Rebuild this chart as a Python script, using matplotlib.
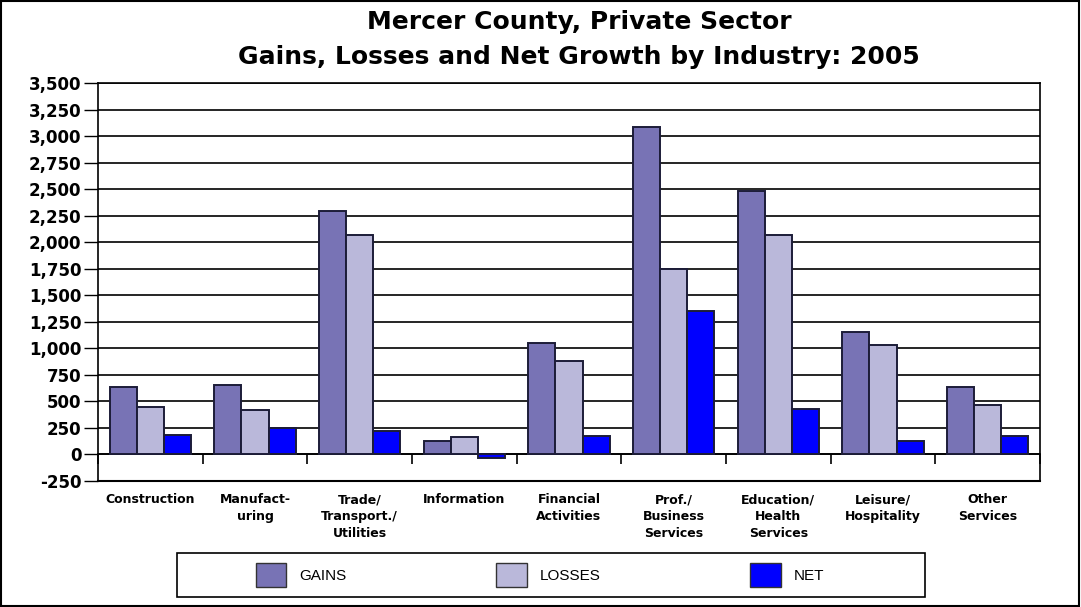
import numpy as np
import matplotlib.pyplot as plt
from matplotlib.patches import Rectangle, Patch

industries = ["Construction", "Manufact-\nuring", "Trade/\nTransport./\nUtilities",
              "Information", "Financial\nActivities", "Prof./\nBusiness\nServices",
              "Education/\nHealth\nServices", "Leisure/\nHospitality", "Other\nServices"]
gains = [635, 655, 2290, 125, 1050, 3090, 2485, 1158, 637]
losses = [447, 416, 2072, 160, 879, 1744, 2070, 1030, 463]
net = [183, 247, 222, -35, 177, 1356, 431, 130, 177]

series_names = ["GAINS", "LOSSES", "NET"]
colors = ["#7873B5", "#BAB8DA", "#0000FF"]

W, H = 1081, 607
fig = plt.figure(figsize=(W / 100, H / 100), dpi=100)
fig.patches.append(Rectangle((0.001, 0.002), 0.997, 0.996, transform=fig.transFigure,
                             fill=False, ec="black", lw=1.5))

ax = fig.add_axes([98 / W, 1 - 481 / H, (1040 - 98) / W, (481 - 83) / H])

x = np.arange(len(industries))
w = 0.26
for i, (vals, c) in enumerate(zip([gains, losses, net], colors)):
    ax.bar(x + (i - 1) * w, vals, w, color=c, edgecolor="#1c1c38", linewidth=1.4,
           label=series_names[i], zorder=3)

ax.set_xlim(-0.5, len(industries) - 0.5)
ax.set_ylim(-250, 3500)
ticks = np.arange(-250, 3501, 250)
ax.set_yticks(ticks)
ax.set_yticklabels([f"{v:,}" for v in ticks], fontsize=12, fontweight="bold")
ax.grid(axis="y", color="black", linewidth=1.2, zorder=0)
ax.axhline(-250, color="black", linewidth=1.5, clip_on=False, zorder=1)
ax.set_axisbelow(True)
ax.tick_params(axis="y", direction="out", length=10, width=1, pad=2)

ax.spines["bottom"].set_position(("data", 0))
ax.spines["bottom"].set_linewidth(1.2)
for s in ["left", "right", "top"]:
    ax.spines[s].set_linewidth(1.2)
ax.set_xticks(x)
ax.set_xticklabels(industries, fontsize=9, fontweight="bold", linespacing=1.4,
                   va="top")
ax.set_xticks(np.arange(-0.5, len(industries), 1), minor=True)
ax.tick_params(axis="x", which="major", length=0, pad=28)
ax.tick_params(axis="x", which="minor", direction="out", length=7, width=1.2)

fig.text(579 / W, 1 - 22 / H, "Mercer County, Private Sector", ha="center", va="center",
         fontsize=18, fontweight="bold")
fig.text(579 / W, 1 - 57 / H, "Gains, Losses and Net Growth by Industry: 2005",
         ha="center", va="center", fontsize=18, fontweight="bold")

# legend box
fig.patches.append(Rectangle((177 / W, 1 - 597 / H), (925 - 177) / W, 44 / H,
                             transform=fig.transFigure, fill=False, ec="black", lw=1.2))
handles = [Patch(facecolor=c, edgecolor="#333333", linewidth=1) for c in colors]
fig.legend(handles, series_names, loc="center", bbox_to_anchor=(540 / W, 1 - 575 / H),
           ncol=3, frameon=False, prop={"family": "Liberation Sans", "size": 11},
           handlelength=2.0, handleheight=2.0, handletextpad=0.85, columnspacing=9.8)

fig.savefig("out.png", dpi=100)
